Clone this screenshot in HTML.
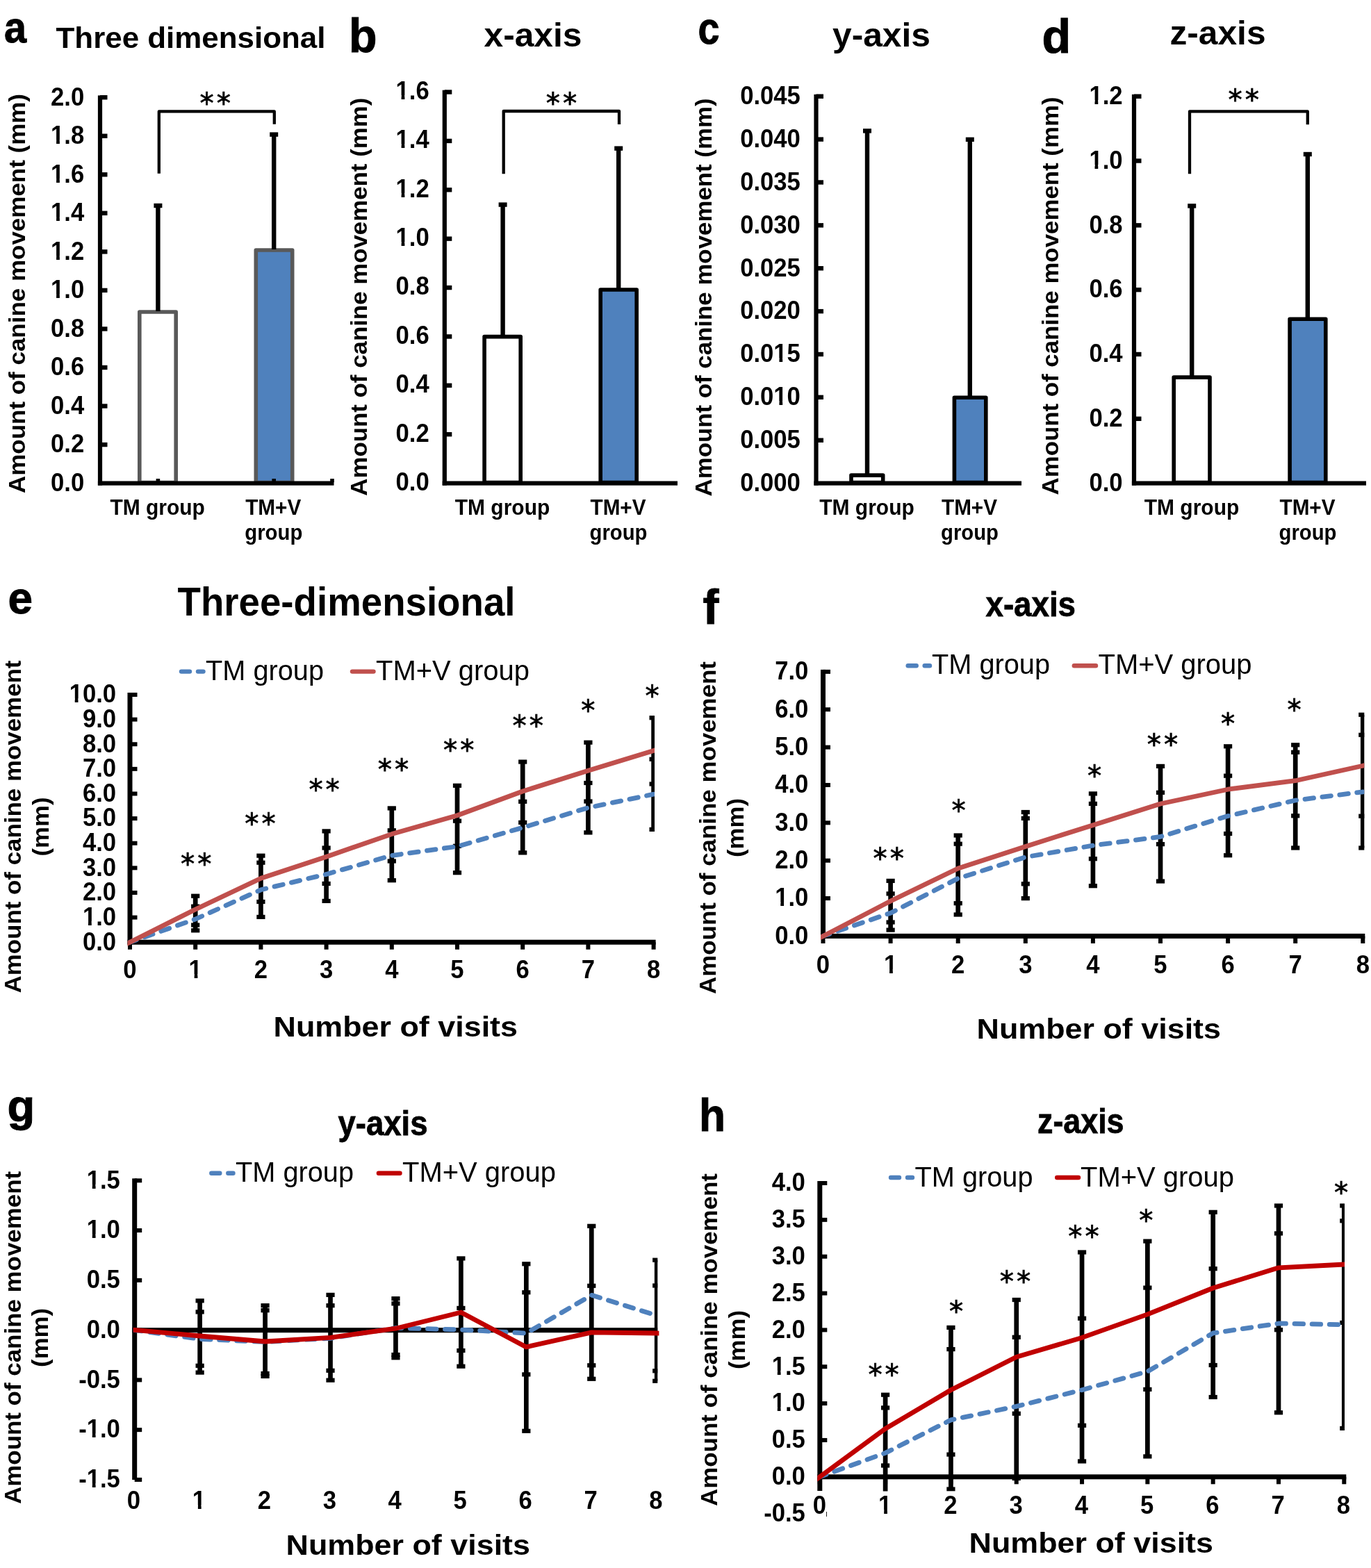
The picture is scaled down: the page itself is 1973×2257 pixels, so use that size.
<!DOCTYPE html>
<html lang="en">
<head>
<meta charset="utf-8">
<title>Canine movement figure</title>
<style>html,body{margin:0;padding:0;background:#fff}svg{display:block}text{white-space:pre}</style>
</head>
<body>
<svg width="1973" height="2257" viewBox="0 0 1973 2257" font-family='"Liberation Sans", sans-serif' font-weight="bold" fill="#000" stroke="none">
<defs>
<clipPath id="ec"><rect x="183.5" y="0" width="758.5" height="2257"/></clipPath>
<clipPath id="fc"><rect x="1181" y="0" width="782.3" height="2257"/></clipPath>
<clipPath id="gc"><rect x="190.2" y="0" width="756.1" height="2257"/></clipPath>
<clipPath id="hc"><rect x="1176.3" y="0" width="758.7" height="2146.6"/></clipPath>
<clipPath id="gl"><rect x="191.7" y="0" width="756.7" height="2257"/></clipPath>
<clipPath id="hz"><rect x="0" y="2100" width="1189.5" height="200"/></clipPath>
</defs>
<rect width="1973" height="2257" fill="#fff"/>
<g>
<rect x="200.8" y="449" width="52.4" height="245.6" fill="#fff" stroke="#595959" stroke-width="5.6" stroke-linejoin="round"/>
<rect x="368.3" y="360" width="52.4" height="334.6" fill="#4F81BD" stroke="#595959" stroke-width="5.6" stroke-linejoin="round"/>
<rect x="224.2" y="296" width="6.4" height="152" fill="#000"/>
<rect x="221.4" y="292.8" width="12" height="6.4" fill="#000"/>
<rect x="391" y="193.6" width="6.4" height="165.4" fill="#000"/>
<rect x="388.2" y="190.4" width="12" height="6.4" fill="#000"/>
<rect x="140.9" y="137.4" width="6.2" height="561.3" fill="#000"/>
<rect x="140.9" y="692.5" width="339.6" height="6.2" fill="#000"/>
<text x="121.2" y="706.9" font-size="36.3" text-anchor="end" textLength="48.19" lengthAdjust="spacingAndGlyphs">0.0</text>
<rect x="144" y="636.86" width="10.5" height="6.4" fill="#000"/>
<text x="121.2" y="651.36" font-size="36.3" text-anchor="end" textLength="48.19" lengthAdjust="spacingAndGlyphs">0.2</text>
<rect x="144" y="581.32" width="10.5" height="6.4" fill="#000"/>
<text x="121.2" y="595.82" font-size="36.3" text-anchor="end" textLength="48.19" lengthAdjust="spacingAndGlyphs">0.4</text>
<rect x="144" y="525.78" width="10.5" height="6.4" fill="#000"/>
<text x="121.2" y="540.28" font-size="36.3" text-anchor="end" textLength="48.19" lengthAdjust="spacingAndGlyphs">0.6</text>
<rect x="144" y="470.24" width="10.5" height="6.4" fill="#000"/>
<text x="121.2" y="484.74" font-size="36.3" text-anchor="end" textLength="48.19" lengthAdjust="spacingAndGlyphs">0.8</text>
<rect x="144" y="414.7" width="10.5" height="6.4" fill="#000"/>
<text x="121.2" y="429.2" font-size="36.3" text-anchor="end" textLength="48.19" lengthAdjust="spacingAndGlyphs">1.0</text>
<rect x="74.02" y="423.35" width="7.08" height="8.35" fill="#fff"/>
<rect x="85.86" y="423.35" width="6.62" height="8.35" fill="#fff"/>
<rect x="144" y="359.16" width="10.5" height="6.4" fill="#000"/>
<text x="121.2" y="373.66" font-size="36.3" text-anchor="end" textLength="48.19" lengthAdjust="spacingAndGlyphs">1.2</text>
<rect x="74.02" y="367.81" width="7.08" height="8.35" fill="#fff"/>
<rect x="85.86" y="367.81" width="6.62" height="8.35" fill="#fff"/>
<rect x="144" y="303.62" width="10.5" height="6.4" fill="#000"/>
<text x="121.2" y="318.12" font-size="36.3" text-anchor="end" textLength="48.19" lengthAdjust="spacingAndGlyphs">1.4</text>
<rect x="74.02" y="312.27" width="7.08" height="8.35" fill="#fff"/>
<rect x="85.86" y="312.27" width="6.62" height="8.35" fill="#fff"/>
<rect x="144" y="248.08" width="10.5" height="6.4" fill="#000"/>
<text x="121.2" y="262.58" font-size="36.3" text-anchor="end" textLength="48.19" lengthAdjust="spacingAndGlyphs">1.6</text>
<rect x="74.02" y="256.73" width="7.08" height="8.35" fill="#fff"/>
<rect x="85.86" y="256.73" width="6.62" height="8.35" fill="#fff"/>
<rect x="144" y="192.54" width="10.5" height="6.4" fill="#000"/>
<text x="121.2" y="207.04" font-size="36.3" text-anchor="end" textLength="48.19" lengthAdjust="spacingAndGlyphs">1.8</text>
<rect x="74.02" y="201.19" width="7.08" height="8.35" fill="#fff"/>
<rect x="85.86" y="201.19" width="6.62" height="8.35" fill="#fff"/>
<rect x="144" y="137" width="10.5" height="6.4" fill="#000"/>
<text x="121.2" y="151.5" font-size="36.3" text-anchor="end" textLength="48.19" lengthAdjust="spacingAndGlyphs">2.0</text>
<rect x="224.6" y="689.1" width="5.6" height="5" fill="#000"/>
<rect x="391.4" y="689.1" width="5.6" height="5" fill="#000"/>
<rect x="475.2" y="689.1" width="5.6" height="5" fill="#000"/>
<path d="M228.8 249.7V160.4H394.8V178.8" fill="none" stroke="#000" stroke-width="4.3" stroke-linejoin="round"/>
<text x="309.8" y="162.5" font-size="40.2" text-anchor="middle" font-weight="normal" font-family='"DejaVu Sans Mono", "Liberation Mono", monospace' stroke="#000" stroke-width="0.8">**</text>
<text x="35.5" y="710" font-size="33.5" textLength="575" lengthAdjust="spacingAndGlyphs" transform="rotate(-90 35.5 710)">Amount of canine movement (mm)</text>
<text x="226.7" y="741" font-size="31" text-anchor="middle" textLength="136.5" lengthAdjust="spacingAndGlyphs">TM group</text>
<text x="393.2" y="741" font-size="31" text-anchor="middle" textLength="80" lengthAdjust="spacingAndGlyphs">TM+V</text>
<text x="393.8" y="776.8" font-size="31" text-anchor="middle" textLength="83" lengthAdjust="spacingAndGlyphs">group</text>
<text x="80.5" y="69.3" font-size="42.5" textLength="388" lengthAdjust="spacingAndGlyphs">Three dimensional</text>
<text x="6" y="61.3" font-size="63.5" textLength="32" lengthAdjust="spacingAndGlyphs" stroke="#000" stroke-width="1">a</text>
</g>
<g>
<rect x="697.1" y="484.6" width="52.1" height="210" fill="#fff" stroke="#000" stroke-width="5.6" stroke-linejoin="round"/>
<rect x="864.2" y="417" width="52" height="277.6" fill="#4F81BD" stroke="#000" stroke-width="5.6" stroke-linejoin="round"/>
<rect x="720.4" y="294.6" width="6.4" height="189.4" fill="#000"/>
<rect x="717.6" y="291.4" width="12" height="6.4" fill="#000"/>
<rect x="887" y="213.6" width="6.4" height="203.4" fill="#000"/>
<rect x="884.2" y="210.4" width="12" height="6.4" fill="#000"/>
<rect x="636.7" y="129.7" width="6.2" height="569" fill="#000"/>
<rect x="636.7" y="692.5" width="338.3" height="6.2" fill="#000"/>
<text x="617.7" y="705.9" font-size="36.3" text-anchor="end" textLength="48.19" lengthAdjust="spacingAndGlyphs">0.0</text>
<rect x="639.8" y="622.01" width="10.5" height="6.4" fill="#000"/>
<text x="617.7" y="635.51" font-size="36.3" text-anchor="end" textLength="48.19" lengthAdjust="spacingAndGlyphs">0.2</text>
<rect x="639.8" y="551.62" width="10.5" height="6.4" fill="#000"/>
<text x="617.7" y="565.12" font-size="36.3" text-anchor="end" textLength="48.19" lengthAdjust="spacingAndGlyphs">0.4</text>
<rect x="639.8" y="481.24" width="10.5" height="6.4" fill="#000"/>
<text x="617.7" y="494.74" font-size="36.3" text-anchor="end" textLength="48.19" lengthAdjust="spacingAndGlyphs">0.6</text>
<rect x="639.8" y="410.85" width="10.5" height="6.4" fill="#000"/>
<text x="617.7" y="424.35" font-size="36.3" text-anchor="end" textLength="48.19" lengthAdjust="spacingAndGlyphs">0.8</text>
<rect x="639.8" y="340.46" width="10.5" height="6.4" fill="#000"/>
<text x="617.7" y="353.96" font-size="36.3" text-anchor="end" textLength="48.19" lengthAdjust="spacingAndGlyphs">1.0</text>
<rect x="570.52" y="348.11" width="7.08" height="8.35" fill="#fff"/>
<rect x="582.36" y="348.11" width="6.62" height="8.35" fill="#fff"/>
<rect x="639.8" y="270.07" width="10.5" height="6.4" fill="#000"/>
<text x="617.7" y="283.57" font-size="36.3" text-anchor="end" textLength="48.19" lengthAdjust="spacingAndGlyphs">1.2</text>
<rect x="570.52" y="277.73" width="7.08" height="8.35" fill="#fff"/>
<rect x="582.36" y="277.73" width="6.62" height="8.35" fill="#fff"/>
<rect x="639.8" y="199.69" width="10.5" height="6.4" fill="#000"/>
<text x="617.7" y="213.19" font-size="36.3" text-anchor="end" textLength="48.19" lengthAdjust="spacingAndGlyphs">1.4</text>
<rect x="570.52" y="207.34" width="7.08" height="8.35" fill="#fff"/>
<rect x="582.36" y="207.34" width="6.62" height="8.35" fill="#fff"/>
<rect x="639.8" y="129.3" width="10.5" height="6.4" fill="#000"/>
<text x="617.7" y="142.8" font-size="36.3" text-anchor="end" textLength="48.19" lengthAdjust="spacingAndGlyphs">1.6</text>
<rect x="570.52" y="136.95" width="7.08" height="8.35" fill="#fff"/>
<rect x="582.36" y="136.95" width="6.62" height="8.35" fill="#fff"/>
<path d="M724.7 250.3V160H891V179" fill="none" stroke="#000" stroke-width="4.3" stroke-linejoin="round"/>
<text x="808" y="162.5" font-size="40.2" text-anchor="middle" font-weight="normal" font-family='"DejaVu Sans Mono", "Liberation Mono", monospace' stroke="#000" stroke-width="0.8">**</text>
<text x="528.5" y="713.7" font-size="33.5" textLength="573" lengthAdjust="spacingAndGlyphs" transform="rotate(-90 528.5 713.7)">Amount of canine movement (mm)</text>
<text x="723" y="741" font-size="31" text-anchor="middle" textLength="136.5" lengthAdjust="spacingAndGlyphs">TM group</text>
<text x="889.5" y="741" font-size="31" text-anchor="middle" textLength="80" lengthAdjust="spacingAndGlyphs">TM+V</text>
<text x="890" y="776.8" font-size="31" text-anchor="middle" textLength="83" lengthAdjust="spacingAndGlyphs">group</text>
<text x="696.5" y="67" font-size="49" textLength="141" lengthAdjust="spacingAndGlyphs">x-axis</text>
<text x="502" y="75" font-size="69" textLength="40.5" lengthAdjust="spacingAndGlyphs" stroke="#000" stroke-width="1">b</text>
</g>
<g>
<rect x="1225" y="684.1" width="45.7" height="10.5" fill="#fff" stroke="#000" stroke-width="5.6" stroke-linejoin="round"/>
<rect x="1373.4" y="572.2" width="45.4" height="122.4" fill="#4F81BD" stroke="#000" stroke-width="5.6" stroke-linejoin="round"/>
<rect x="1244.8" y="188.4" width="6.4" height="495.6" fill="#000"/>
<rect x="1242" y="185.2" width="12" height="6.4" fill="#000"/>
<rect x="1392.6" y="200.8" width="6.4" height="371.2" fill="#000"/>
<rect x="1389.8" y="197.6" width="12" height="6.4" fill="#000"/>
<rect x="1171.4" y="135.9" width="6.2" height="562.8" fill="#000"/>
<rect x="1171.4" y="692.5" width="298.6" height="6.2" fill="#000"/>
<text x="1151.9" y="706.9" font-size="36.3" text-anchor="end" textLength="86.75" lengthAdjust="spacingAndGlyphs">0.000</text>
<rect x="1174.5" y="630.52" width="10.5" height="6.4" fill="#000"/>
<text x="1151.9" y="645.02" font-size="36.3" text-anchor="end" textLength="86.75" lengthAdjust="spacingAndGlyphs">0.005</text>
<rect x="1174.5" y="568.64" width="10.5" height="6.4" fill="#000"/>
<text x="1151.9" y="583.14" font-size="36.3" text-anchor="end" textLength="86.75" lengthAdjust="spacingAndGlyphs">0.010</text>
<rect x="1114.36" y="577.3" width="7.08" height="8.35" fill="#fff"/>
<rect x="1126.19" y="577.3" width="6.62" height="8.35" fill="#fff"/>
<rect x="1174.5" y="506.77" width="10.5" height="6.4" fill="#000"/>
<text x="1151.9" y="521.27" font-size="36.3" text-anchor="end" textLength="86.75" lengthAdjust="spacingAndGlyphs">0.015</text>
<rect x="1114.36" y="515.42" width="7.08" height="8.35" fill="#fff"/>
<rect x="1126.19" y="515.42" width="6.62" height="8.35" fill="#fff"/>
<rect x="1174.5" y="444.89" width="10.5" height="6.4" fill="#000"/>
<text x="1151.9" y="459.39" font-size="36.3" text-anchor="end" textLength="86.75" lengthAdjust="spacingAndGlyphs">0.020</text>
<rect x="1174.5" y="383.01" width="10.5" height="6.4" fill="#000"/>
<text x="1151.9" y="397.51" font-size="36.3" text-anchor="end" textLength="86.75" lengthAdjust="spacingAndGlyphs">0.025</text>
<rect x="1174.5" y="321.13" width="10.5" height="6.4" fill="#000"/>
<text x="1151.9" y="335.63" font-size="36.3" text-anchor="end" textLength="86.75" lengthAdjust="spacingAndGlyphs">0.030</text>
<rect x="1174.5" y="259.26" width="10.5" height="6.4" fill="#000"/>
<text x="1151.9" y="273.76" font-size="36.3" text-anchor="end" textLength="86.75" lengthAdjust="spacingAndGlyphs">0.035</text>
<rect x="1174.5" y="197.38" width="10.5" height="6.4" fill="#000"/>
<text x="1151.9" y="211.88" font-size="36.3" text-anchor="end" textLength="86.75" lengthAdjust="spacingAndGlyphs">0.040</text>
<rect x="1174.5" y="135.5" width="10.5" height="6.4" fill="#000"/>
<text x="1151.9" y="150" font-size="36.3" text-anchor="end" textLength="86.75" lengthAdjust="spacingAndGlyphs">0.045</text>
<text x="1023.5" y="714.5" font-size="33.5" textLength="573" lengthAdjust="spacingAndGlyphs" transform="rotate(-90 1023.5 714.5)">Amount of canine movement (mm)</text>
<text x="1247.5" y="741" font-size="31" text-anchor="middle" textLength="136.5" lengthAdjust="spacingAndGlyphs">TM group</text>
<text x="1395" y="741" font-size="31" text-anchor="middle" textLength="80" lengthAdjust="spacingAndGlyphs">TM+V</text>
<text x="1395.5" y="776.8" font-size="31" text-anchor="middle" textLength="83" lengthAdjust="spacingAndGlyphs">group</text>
<text x="1198" y="67" font-size="49" textLength="141" lengthAdjust="spacingAndGlyphs">y-axis</text>
<text x="1004.5" y="63.2" font-size="64" textLength="31" lengthAdjust="spacingAndGlyphs" stroke="#000" stroke-width="1">c</text>
</g>
<g>
<rect x="1689.2" y="543.1" width="51.8" height="151.5" fill="#fff" stroke="#000" stroke-width="5.6" stroke-linejoin="round"/>
<rect x="1856.1" y="459.2" width="51.7" height="235.4" fill="#4F81BD" stroke="#000" stroke-width="5.6" stroke-linejoin="round"/>
<rect x="1712" y="296.4" width="6.4" height="246.6" fill="#000"/>
<rect x="1709.2" y="293.2" width="12" height="6.4" fill="#000"/>
<rect x="1878.6" y="222" width="6.4" height="237" fill="#000"/>
<rect x="1875.8" y="218.8" width="12" height="6.4" fill="#000"/>
<rect x="1628.9" y="135.9" width="6.2" height="562.8" fill="#000"/>
<rect x="1628.9" y="692.5" width="337.1" height="6.2" fill="#000"/>
<text x="1615.6" y="706.9" font-size="36.3" text-anchor="end" textLength="48.19" lengthAdjust="spacingAndGlyphs">0.0</text>
<rect x="1632" y="599.58" width="10.5" height="6.4" fill="#000"/>
<text x="1615.6" y="614.08" font-size="36.3" text-anchor="end" textLength="48.19" lengthAdjust="spacingAndGlyphs">0.2</text>
<rect x="1632" y="506.77" width="10.5" height="6.4" fill="#000"/>
<text x="1615.6" y="521.27" font-size="36.3" text-anchor="end" textLength="48.19" lengthAdjust="spacingAndGlyphs">0.4</text>
<rect x="1632" y="413.95" width="10.5" height="6.4" fill="#000"/>
<text x="1615.6" y="428.45" font-size="36.3" text-anchor="end" textLength="48.19" lengthAdjust="spacingAndGlyphs">0.6</text>
<rect x="1632" y="321.13" width="10.5" height="6.4" fill="#000"/>
<text x="1615.6" y="335.63" font-size="36.3" text-anchor="end" textLength="48.19" lengthAdjust="spacingAndGlyphs">0.8</text>
<rect x="1632" y="228.32" width="10.5" height="6.4" fill="#000"/>
<text x="1615.6" y="242.82" font-size="36.3" text-anchor="end" textLength="48.19" lengthAdjust="spacingAndGlyphs">1.0</text>
<rect x="1568.42" y="236.97" width="7.08" height="8.35" fill="#fff"/>
<rect x="1580.26" y="236.97" width="6.62" height="8.35" fill="#fff"/>
<rect x="1632" y="135.5" width="10.5" height="6.4" fill="#000"/>
<text x="1615.6" y="150" font-size="36.3" text-anchor="end" textLength="48.19" lengthAdjust="spacingAndGlyphs">1.2</text>
<rect x="1568.42" y="144.15" width="7.08" height="8.35" fill="#fff"/>
<rect x="1580.26" y="144.15" width="6.62" height="8.35" fill="#fff"/>
<path d="M1712 250.3V160.4H1881.8V179.2" fill="none" stroke="#000" stroke-width="4.3" stroke-linejoin="round"/>
<text x="1789.7" y="157.7" font-size="40.2" text-anchor="middle" font-weight="normal" font-family='"DejaVu Sans Mono", "Liberation Mono", monospace' stroke="#000" stroke-width="0.8">**</text>
<text x="1522.5" y="712.5" font-size="33.5" textLength="573" lengthAdjust="spacingAndGlyphs" transform="rotate(-90 1522.5 712.5)">Amount of canine movement (mm)</text>
<text x="1715" y="741" font-size="31" text-anchor="middle" textLength="136.5" lengthAdjust="spacingAndGlyphs">TM group</text>
<text x="1881.5" y="741" font-size="31" text-anchor="middle" textLength="80" lengthAdjust="spacingAndGlyphs">TM+V</text>
<text x="1882" y="776.8" font-size="31" text-anchor="middle" textLength="83" lengthAdjust="spacingAndGlyphs">group</text>
<text x="1683.5" y="63.6" font-size="49" textLength="138" lengthAdjust="spacingAndGlyphs">z-axis</text>
<text x="1499.5" y="75.5" font-size="68" stroke="#000" stroke-width="1">d</text>
</g>
<g>
<g clip-path="url(#ec)">
<rect x="277.85" y="1289.7" width="6.7" height="49.6" fill="#000"/>
<rect x="275.1" y="1286.6" width="12.2" height="6.2" fill="#000"/>
<rect x="275.1" y="1301.6" width="12.2" height="6.2" fill="#000"/>
<rect x="275.1" y="1328.4" width="12.2" height="6.2" fill="#000"/>
<rect x="275.1" y="1336.2" width="12.2" height="6.2" fill="#000"/>
<rect x="372.05" y="1231.7" width="6.7" height="88.2" fill="#000"/>
<rect x="369.3" y="1228.6" width="12.2" height="6.2" fill="#000"/>
<rect x="369.3" y="1238.6" width="12.2" height="6.2" fill="#000"/>
<rect x="369.3" y="1294.9" width="12.2" height="6.2" fill="#000"/>
<rect x="369.3" y="1316.8" width="12.2" height="6.2" fill="#000"/>
<rect x="466.25" y="1196.4" width="6.7" height="100.5" fill="#000"/>
<rect x="463.5" y="1193.3" width="12.2" height="6.2" fill="#000"/>
<rect x="463.5" y="1217.4" width="12.2" height="6.2" fill="#000"/>
<rect x="463.5" y="1268.8" width="12.2" height="6.2" fill="#000"/>
<rect x="463.5" y="1293.8" width="12.2" height="6.2" fill="#000"/>
<rect x="560.45" y="1163.4" width="6.7" height="103.8" fill="#000"/>
<rect x="557.7" y="1160.3" width="12.2" height="6.2" fill="#000"/>
<rect x="557.7" y="1192.2" width="12.2" height="6.2" fill="#000"/>
<rect x="557.7" y="1236.4" width="12.2" height="6.2" fill="#000"/>
<rect x="557.7" y="1264.1" width="12.2" height="6.2" fill="#000"/>
<rect x="654.65" y="1130.8" width="6.7" height="125.4" fill="#000"/>
<rect x="651.9" y="1127.7" width="12.2" height="6.2" fill="#000"/>
<rect x="651.9" y="1178.6" width="12.2" height="6.2" fill="#000"/>
<rect x="651.9" y="1214.7" width="12.2" height="6.2" fill="#000"/>
<rect x="651.9" y="1253.1" width="12.2" height="6.2" fill="#000"/>
<rect x="748.85" y="1096.6" width="6.7" height="130.8" fill="#000"/>
<rect x="746.1" y="1093.5" width="12.2" height="6.2" fill="#000"/>
<rect x="746.1" y="1150.7" width="12.2" height="6.2" fill="#000"/>
<rect x="746.1" y="1180.8" width="12.2" height="6.2" fill="#000"/>
<rect x="746.1" y="1224.3" width="12.2" height="6.2" fill="#000"/>
<rect x="843.05" y="1068.7" width="6.7" height="129.7" fill="#000"/>
<rect x="840.3" y="1065.6" width="12.2" height="6.2" fill="#000"/>
<rect x="840.3" y="1123.9" width="12.2" height="6.2" fill="#000"/>
<rect x="840.3" y="1150.4" width="12.2" height="6.2" fill="#000"/>
<rect x="840.3" y="1195.3" width="12.2" height="6.2" fill="#000"/>
<rect x="937.25" y="1033.2" width="6.7" height="160.7" fill="#000"/>
<rect x="934.5" y="1030.1" width="12.2" height="6.2" fill="#000"/>
<rect x="934.5" y="1089.7" width="12.2" height="6.2" fill="#000"/>
<rect x="934.5" y="1125.4" width="12.2" height="6.2" fill="#000"/>
<rect x="934.5" y="1190.8" width="12.2" height="6.2" fill="#000"/>
</g>
<rect x="183.5" y="997" width="7" height="362.7" fill="#000"/>
<rect x="183.5" y="1352.7" width="760.1" height="7" fill="#000"/>
<rect x="187" y="997" width="10.5" height="6" fill="#000"/>
<rect x="187" y="1032.62" width="10.5" height="6" fill="#000"/>
<rect x="187" y="1068.24" width="10.5" height="6" fill="#000"/>
<rect x="187" y="1103.86" width="10.5" height="6" fill="#000"/>
<rect x="187" y="1139.48" width="10.5" height="6" fill="#000"/>
<rect x="187" y="1175.1" width="10.5" height="6" fill="#000"/>
<rect x="187" y="1210.72" width="10.5" height="6" fill="#000"/>
<rect x="187" y="1246.34" width="10.5" height="6" fill="#000"/>
<rect x="187" y="1281.96" width="10.5" height="6" fill="#000"/>
<rect x="187" y="1317.58" width="10.5" height="6" fill="#000"/>
<rect x="184" y="1356.2" width="6" height="10.5" fill="#000"/>
<rect x="278.2" y="1356.2" width="6" height="10.5" fill="#000"/>
<rect x="372.4" y="1356.2" width="6" height="10.5" fill="#000"/>
<rect x="466.6" y="1356.2" width="6" height="10.5" fill="#000"/>
<rect x="560.8" y="1356.2" width="6" height="10.5" fill="#000"/>
<rect x="655" y="1356.2" width="6" height="10.5" fill="#000"/>
<rect x="749.2" y="1356.2" width="6" height="10.5" fill="#000"/>
<rect x="843.4" y="1356.2" width="6" height="10.5" fill="#000"/>
<rect x="937.6" y="1356.2" width="6" height="10.5" fill="#000"/>
<text x="167.1" y="1011.3" font-size="36.3" text-anchor="end" textLength="67.47" lengthAdjust="spacingAndGlyphs">10.0</text>
<rect x="100.64" y="1005.45" width="7.08" height="8.35" fill="#fff"/>
<rect x="112.48" y="1005.45" width="6.62" height="8.35" fill="#fff"/>
<text x="167.1" y="1046.92" font-size="36.3" text-anchor="end" textLength="48.19" lengthAdjust="spacingAndGlyphs">9.0</text>
<text x="167.1" y="1082.54" font-size="36.3" text-anchor="end" textLength="48.19" lengthAdjust="spacingAndGlyphs">8.0</text>
<text x="167.1" y="1118.16" font-size="36.3" text-anchor="end" textLength="48.19" lengthAdjust="spacingAndGlyphs">7.0</text>
<text x="167.1" y="1153.78" font-size="36.3" text-anchor="end" textLength="48.19" lengthAdjust="spacingAndGlyphs">6.0</text>
<text x="167.1" y="1189.4" font-size="36.3" text-anchor="end" textLength="48.19" lengthAdjust="spacingAndGlyphs">5.0</text>
<text x="167.1" y="1225.02" font-size="36.3" text-anchor="end" textLength="48.19" lengthAdjust="spacingAndGlyphs">4.0</text>
<text x="167.1" y="1260.64" font-size="36.3" text-anchor="end" textLength="48.19" lengthAdjust="spacingAndGlyphs">3.0</text>
<text x="167.1" y="1296.26" font-size="36.3" text-anchor="end" textLength="48.19" lengthAdjust="spacingAndGlyphs">2.0</text>
<text x="167.1" y="1331.88" font-size="36.3" text-anchor="end" textLength="48.19" lengthAdjust="spacingAndGlyphs">1.0</text>
<rect x="119.92" y="1326.03" width="7.08" height="8.35" fill="#fff"/>
<rect x="131.76" y="1326.03" width="6.62" height="8.35" fill="#fff"/>
<text x="167.1" y="1367.5" font-size="36.3" text-anchor="end" textLength="48.19" lengthAdjust="spacingAndGlyphs">0.0</text>
<text x="187" y="1408" font-size="36.3" text-anchor="middle" textLength="19.28" lengthAdjust="spacingAndGlyphs">0</text>
<text x="281.2" y="1408" font-size="36.3" text-anchor="middle" textLength="19.28" lengthAdjust="spacingAndGlyphs">1</text>
<rect x="272.58" y="1402.15" width="7.08" height="8.35" fill="#fff"/>
<rect x="284.41" y="1402.15" width="6.62" height="8.35" fill="#fff"/>
<text x="375.4" y="1408" font-size="36.3" text-anchor="middle" textLength="19.28" lengthAdjust="spacingAndGlyphs">2</text>
<text x="469.6" y="1408" font-size="36.3" text-anchor="middle" textLength="19.28" lengthAdjust="spacingAndGlyphs">3</text>
<text x="563.8" y="1408" font-size="36.3" text-anchor="middle" textLength="19.28" lengthAdjust="spacingAndGlyphs">4</text>
<text x="658" y="1408" font-size="36.3" text-anchor="middle" textLength="19.28" lengthAdjust="spacingAndGlyphs">5</text>
<text x="752.2" y="1408" font-size="36.3" text-anchor="middle" textLength="19.28" lengthAdjust="spacingAndGlyphs">6</text>
<text x="846.4" y="1408" font-size="36.3" text-anchor="middle" textLength="19.28" lengthAdjust="spacingAndGlyphs">7</text>
<text x="940.6" y="1408" font-size="36.3" text-anchor="middle" textLength="19.28" lengthAdjust="spacingAndGlyphs">8</text>
<g clip-path="url(#ec)">
<polyline points="187,1356.2 281.2,1323 375.4,1280.8 469.6,1258.4 563.8,1231.4 658,1218.4 752.2,1191.3 846.4,1162.6 940.6,1143.2" fill="none" stroke="#4F81BD" stroke-width="6.8" stroke-dasharray="12.6 12.5" stroke-dashoffset="2.7" stroke-linecap="round" stroke-linejoin="round"/>
<polyline points="177.58,1360.92 187,1356.2 281.2,1309 375.4,1264.3 469.6,1233.2 563.8,1200.6 658,1173.7 752.2,1139 846.4,1109.2 940.6,1080.4 950.02,1077.52" fill="none" stroke="#C0504D" stroke-width="6.8" stroke-linejoin="round"/>
</g>
<text x="282.2" y="1257.5" font-size="40.2" text-anchor="middle" font-weight="normal" font-family='"DejaVu Sans Mono", "Liberation Mono", monospace' stroke="#000" stroke-width="0.8">**</text>
<text x="374.5" y="1199.9" font-size="40.2" text-anchor="middle" font-weight="normal" font-family='"DejaVu Sans Mono", "Liberation Mono", monospace' stroke="#000" stroke-width="0.8">**</text>
<text x="466.6" y="1150.9" font-size="40.2" text-anchor="middle" font-weight="normal" font-family='"DejaVu Sans Mono", "Liberation Mono", monospace' stroke="#000" stroke-width="0.8">**</text>
<text x="566" y="1121.7" font-size="40.2" text-anchor="middle" font-weight="normal" font-family='"DejaVu Sans Mono", "Liberation Mono", monospace' stroke="#000" stroke-width="0.8">**</text>
<text x="660.3" y="1093.9" font-size="40.2" text-anchor="middle" font-weight="normal" font-family='"DejaVu Sans Mono", "Liberation Mono", monospace' stroke="#000" stroke-width="0.8">**</text>
<text x="759.8" y="1058.9" font-size="40.2" text-anchor="middle" font-weight="normal" font-family='"DejaVu Sans Mono", "Liberation Mono", monospace' stroke="#000" stroke-width="0.8">**</text>
<text x="846.4" y="1036.9" font-size="40.2" text-anchor="middle" font-weight="normal" font-family='"DejaVu Sans Mono", "Liberation Mono", monospace' stroke="#000" stroke-width="0.8">*</text>
<text x="938.6" y="1015.7" font-size="40.2" text-anchor="middle" font-weight="normal" font-family='"DejaVu Sans Mono", "Liberation Mono", monospace' stroke="#000" stroke-width="0.8">*</text>
<line x1="261" y1="966.6" x2="273" y2="966.6" stroke-width="6.4" stroke="#4F81BD" stroke-linecap="round"/>
<line x1="285" y1="966.6" x2="292.5" y2="966.6" stroke-width="6.4" stroke="#4F81BD" stroke-linecap="round"/>
<text x="296" y="978.6" font-size="41.5" font-weight="normal" textLength="170" lengthAdjust="spacingAndGlyphs">TM group</text>
<line x1="507" y1="966.6" x2="537.5" y2="966.6" stroke-width="6.4" stroke="#C0504D" stroke-linecap="round"/>
<text x="541" y="978.6" font-size="41.5" font-weight="normal" textLength="221" lengthAdjust="spacingAndGlyphs">TM+V group</text>
<text x="30" y="1190" font-size="33" text-anchor="middle" textLength="479" lengthAdjust="spacingAndGlyphs" transform="rotate(-90 30 1190)">Amount of canine movement</text>
<text x="69.5" y="1190" font-size="33" text-anchor="middle" textLength="85" lengthAdjust="spacingAndGlyphs" transform="rotate(-90 69.5 1190)">(mm)</text>
<text x="393.5" y="1492.1" font-size="41" textLength="351.5" lengthAdjust="spacingAndGlyphs">Number of visits</text>
<text x="255.5" y="886" font-size="57.5" textLength="486" lengthAdjust="spacingAndGlyphs">Three-dimensional</text>
<text x="11.5" y="883.3" font-size="64" textLength="35.5" lengthAdjust="spacingAndGlyphs" stroke="#000" stroke-width="1">e</text>
</g>
<g>
<g clip-path="url(#fc)">
<rect x="1278.25" y="1267.9" width="6.7" height="70.7" fill="#000"/>
<rect x="1275.5" y="1264.8" width="12.2" height="6.2" fill="#000"/>
<rect x="1275.5" y="1283.3" width="12.2" height="6.2" fill="#000"/>
<rect x="1275.5" y="1324.4" width="12.2" height="6.2" fill="#000"/>
<rect x="1275.5" y="1335.5" width="12.2" height="6.2" fill="#000"/>
<rect x="1375.35" y="1202.5" width="6.7" height="114" fill="#000"/>
<rect x="1372.6" y="1199.4" width="12.2" height="6.2" fill="#000"/>
<rect x="1372.6" y="1211.6" width="12.2" height="6.2" fill="#000"/>
<rect x="1372.6" y="1297.1" width="12.2" height="6.2" fill="#000"/>
<rect x="1372.6" y="1313.4" width="12.2" height="6.2" fill="#000"/>
<rect x="1472.45" y="1169" width="6.7" height="124.1" fill="#000"/>
<rect x="1469.7" y="1165.9" width="12.2" height="6.2" fill="#000"/>
<rect x="1469.7" y="1174.8" width="12.2" height="6.2" fill="#000"/>
<rect x="1469.7" y="1269.2" width="12.2" height="6.2" fill="#000"/>
<rect x="1469.7" y="1290" width="12.2" height="6.2" fill="#000"/>
<rect x="1569.55" y="1142.4" width="6.7" height="132.8" fill="#000"/>
<rect x="1566.8" y="1139.3" width="12.2" height="6.2" fill="#000"/>
<rect x="1566.8" y="1153.8" width="12.2" height="6.2" fill="#000"/>
<rect x="1566.8" y="1233.1" width="12.2" height="6.2" fill="#000"/>
<rect x="1566.8" y="1272.1" width="12.2" height="6.2" fill="#000"/>
<rect x="1666.65" y="1102.9" width="6.7" height="165.6" fill="#000"/>
<rect x="1663.9" y="1099.8" width="12.2" height="6.2" fill="#000"/>
<rect x="1663.9" y="1137.7" width="12.2" height="6.2" fill="#000"/>
<rect x="1663.9" y="1212" width="12.2" height="6.2" fill="#000"/>
<rect x="1663.9" y="1265.4" width="12.2" height="6.2" fill="#000"/>
<rect x="1763.75" y="1074.3" width="6.7" height="156.9" fill="#000"/>
<rect x="1761" y="1071.2" width="12.2" height="6.2" fill="#000"/>
<rect x="1761" y="1113.6" width="12.2" height="6.2" fill="#000"/>
<rect x="1761" y="1196.9" width="12.2" height="6.2" fill="#000"/>
<rect x="1761" y="1228.1" width="12.2" height="6.2" fill="#000"/>
<rect x="1860.85" y="1072.3" width="6.7" height="148.2" fill="#000"/>
<rect x="1858.1" y="1069.2" width="12.2" height="6.2" fill="#000"/>
<rect x="1858.1" y="1079.7" width="12.2" height="6.2" fill="#000"/>
<rect x="1858.1" y="1171.2" width="12.2" height="6.2" fill="#000"/>
<rect x="1858.1" y="1217.4" width="12.2" height="6.2" fill="#000"/>
<rect x="1957.95" y="1028.8" width="6.7" height="191.7" fill="#000"/>
<rect x="1955.2" y="1025.7" width="12.2" height="6.2" fill="#000"/>
<rect x="1955.2" y="1054.7" width="12.2" height="6.2" fill="#000"/>
<rect x="1955.2" y="1171.6" width="12.2" height="6.2" fill="#000"/>
<rect x="1955.2" y="1217.4" width="12.2" height="6.2" fill="#000"/>
</g>
<rect x="1181" y="963.9" width="7" height="387" fill="#000"/>
<rect x="1181" y="1343.9" width="783.3" height="7" fill="#000"/>
<rect x="1184.5" y="963.9" width="10.5" height="6" fill="#000"/>
<rect x="1184.5" y="1018.26" width="10.5" height="6" fill="#000"/>
<rect x="1184.5" y="1072.62" width="10.5" height="6" fill="#000"/>
<rect x="1184.5" y="1126.98" width="10.5" height="6" fill="#000"/>
<rect x="1184.5" y="1181.34" width="10.5" height="6" fill="#000"/>
<rect x="1184.5" y="1235.7" width="10.5" height="6" fill="#000"/>
<rect x="1184.5" y="1290.06" width="10.5" height="6" fill="#000"/>
<rect x="1181.5" y="1347.4" width="6" height="10.5" fill="#000"/>
<rect x="1278.6" y="1347.4" width="6" height="10.5" fill="#000"/>
<rect x="1375.7" y="1347.4" width="6" height="10.5" fill="#000"/>
<rect x="1472.8" y="1347.4" width="6" height="10.5" fill="#000"/>
<rect x="1569.9" y="1347.4" width="6" height="10.5" fill="#000"/>
<rect x="1667" y="1347.4" width="6" height="10.5" fill="#000"/>
<rect x="1764.1" y="1347.4" width="6" height="10.5" fill="#000"/>
<rect x="1861.2" y="1347.4" width="6" height="10.5" fill="#000"/>
<rect x="1958.3" y="1347.4" width="6" height="10.5" fill="#000"/>
<text x="1163.4" y="978.2" font-size="36.3" text-anchor="end" textLength="48.19" lengthAdjust="spacingAndGlyphs">7.0</text>
<text x="1163.4" y="1032.56" font-size="36.3" text-anchor="end" textLength="48.19" lengthAdjust="spacingAndGlyphs">6.0</text>
<text x="1163.4" y="1086.92" font-size="36.3" text-anchor="end" textLength="48.19" lengthAdjust="spacingAndGlyphs">5.0</text>
<text x="1163.4" y="1141.28" font-size="36.3" text-anchor="end" textLength="48.19" lengthAdjust="spacingAndGlyphs">4.0</text>
<text x="1163.4" y="1195.64" font-size="36.3" text-anchor="end" textLength="48.19" lengthAdjust="spacingAndGlyphs">3.0</text>
<text x="1163.4" y="1250" font-size="36.3" text-anchor="end" textLength="48.19" lengthAdjust="spacingAndGlyphs">2.0</text>
<text x="1163.4" y="1304.36" font-size="36.3" text-anchor="end" textLength="48.19" lengthAdjust="spacingAndGlyphs">1.0</text>
<rect x="1116.22" y="1298.51" width="7.08" height="8.35" fill="#fff"/>
<rect x="1128.06" y="1298.51" width="6.62" height="8.35" fill="#fff"/>
<text x="1163.4" y="1358.72" font-size="36.3" text-anchor="end" textLength="48.19" lengthAdjust="spacingAndGlyphs">0.0</text>
<text x="1184.5" y="1401" font-size="36.3" text-anchor="middle" textLength="19.28" lengthAdjust="spacingAndGlyphs">0</text>
<text x="1281.6" y="1401" font-size="36.3" text-anchor="middle" textLength="19.28" lengthAdjust="spacingAndGlyphs">1</text>
<rect x="1272.98" y="1395.15" width="7.08" height="8.35" fill="#fff"/>
<rect x="1284.81" y="1395.15" width="6.62" height="8.35" fill="#fff"/>
<text x="1378.7" y="1401" font-size="36.3" text-anchor="middle" textLength="19.28" lengthAdjust="spacingAndGlyphs">2</text>
<text x="1475.8" y="1401" font-size="36.3" text-anchor="middle" textLength="19.28" lengthAdjust="spacingAndGlyphs">3</text>
<text x="1572.9" y="1401" font-size="36.3" text-anchor="middle" textLength="19.28" lengthAdjust="spacingAndGlyphs">4</text>
<text x="1670" y="1401" font-size="36.3" text-anchor="middle" textLength="19.28" lengthAdjust="spacingAndGlyphs">5</text>
<text x="1767.1" y="1401" font-size="36.3" text-anchor="middle" textLength="19.28" lengthAdjust="spacingAndGlyphs">6</text>
<text x="1864.2" y="1401" font-size="36.3" text-anchor="middle" textLength="19.28" lengthAdjust="spacingAndGlyphs">7</text>
<text x="1961.3" y="1401" font-size="36.3" text-anchor="middle" textLength="19.28" lengthAdjust="spacingAndGlyphs">8</text>
<g clip-path="url(#fc)">
<polyline points="1184.5,1347.4 1281.6,1314.2 1378.7,1264.4 1475.8,1233.7 1572.9,1217 1670,1204.4 1767.1,1174.6 1864.2,1152 1961.3,1139.8" fill="none" stroke="#4F81BD" stroke-width="6.8" stroke-dasharray="12.6 12.5" stroke-dashoffset="2.7" stroke-linecap="round" stroke-linejoin="round"/>
<polyline points="1174.79,1352.44 1184.5,1347.4 1281.6,1297 1378.7,1250 1475.8,1218.4 1572.9,1187.7 1670,1157 1767.1,1136.2 1864.2,1123.7 1961.3,1102.2 1971.01,1100.05" fill="none" stroke="#C0504D" stroke-width="6.8" stroke-linejoin="round"/>
</g>
<text x="1278.7" y="1249.7" font-size="40.2" text-anchor="middle" font-weight="normal" font-family='"DejaVu Sans Mono", "Liberation Mono", monospace' stroke="#000" stroke-width="0.8">**</text>
<text x="1379.7" y="1180.9" font-size="40.2" text-anchor="middle" font-weight="normal" font-family='"DejaVu Sans Mono", "Liberation Mono", monospace' stroke="#000" stroke-width="0.8">*</text>
<text x="1575" y="1130.9" font-size="40.2" text-anchor="middle" font-weight="normal" font-family='"DejaVu Sans Mono", "Liberation Mono", monospace' stroke="#000" stroke-width="0.8">*</text>
<text x="1672.9" y="1085.9" font-size="40.2" text-anchor="middle" font-weight="normal" font-family='"DejaVu Sans Mono", "Liberation Mono", monospace' stroke="#000" stroke-width="0.8">**</text>
<text x="1767.2" y="1055.9" font-size="40.2" text-anchor="middle" font-weight="normal" font-family='"DejaVu Sans Mono", "Liberation Mono", monospace' stroke="#000" stroke-width="0.8">*</text>
<text x="1862.5" y="1035.9" font-size="40.2" text-anchor="middle" font-weight="normal" font-family='"DejaVu Sans Mono", "Liberation Mono", monospace' stroke="#000" stroke-width="0.8">*</text>
<line x1="1306.7" y1="958.2" x2="1318.7" y2="958.2" stroke-width="6.4" stroke="#4F81BD" stroke-linecap="round"/>
<line x1="1330.7" y1="958.2" x2="1338" y2="958.2" stroke-width="6.4" stroke="#4F81BD" stroke-linecap="round"/>
<text x="1341" y="970.2" font-size="41.5" font-weight="normal" textLength="170" lengthAdjust="spacingAndGlyphs">TM group</text>
<line x1="1545.8" y1="958.2" x2="1577" y2="958.2" stroke-width="6.4" stroke="#C0504D" stroke-linecap="round"/>
<text x="1580.5" y="970.2" font-size="41.5" font-weight="normal" textLength="221" lengthAdjust="spacingAndGlyphs">TM+V group</text>
<text x="1030" y="1191.5" font-size="33" text-anchor="middle" textLength="479" lengthAdjust="spacingAndGlyphs" transform="rotate(-90 1030 1191.5)">Amount of canine movement</text>
<text x="1069.5" y="1191.5" font-size="33" text-anchor="middle" textLength="85" lengthAdjust="spacingAndGlyphs" transform="rotate(-90 1069.5 1191.5)">(mm)</text>
<text x="1405.5" y="1494.9" font-size="41" textLength="351.5" lengthAdjust="spacingAndGlyphs">Number of visits</text>
<text x="1418.5" y="886.5" font-size="49.5" textLength="129.5" lengthAdjust="spacingAndGlyphs" stroke="#000" stroke-width="0.8">x-axis</text>
<text x="1011.5" y="897.5" font-size="70" textLength="23" lengthAdjust="spacingAndGlyphs" stroke="#000" stroke-width="1">f</text>
</g>
<g>
<g clip-path="url(#gc)">
<rect x="284.29" y="1872.3" width="6.7" height="103.3" fill="#000"/>
<rect x="281.54" y="1869.2" width="12.2" height="6.2" fill="#000"/>
<rect x="281.54" y="1885.3" width="12.2" height="6.2" fill="#000"/>
<rect x="281.54" y="1962.7" width="12.2" height="6.2" fill="#000"/>
<rect x="281.54" y="1972.5" width="12.2" height="6.2" fill="#000"/>
<rect x="378.22" y="1879.2" width="6.7" height="101.8" fill="#000"/>
<rect x="375.47" y="1876.1" width="12.2" height="6.2" fill="#000"/>
<rect x="375.47" y="1883.1" width="12.2" height="6.2" fill="#000"/>
<rect x="375.47" y="1973.9" width="12.2" height="6.2" fill="#000"/>
<rect x="375.47" y="1977.9" width="12.2" height="6.2" fill="#000"/>
<rect x="472.16" y="1863.9" width="6.7" height="122.8" fill="#000"/>
<rect x="469.41" y="1860.8" width="12.2" height="6.2" fill="#000"/>
<rect x="469.41" y="1876.1" width="12.2" height="6.2" fill="#000"/>
<rect x="469.41" y="1969.7" width="12.2" height="6.2" fill="#000"/>
<rect x="469.41" y="1983.6" width="12.2" height="6.2" fill="#000"/>
<rect x="566.1" y="1869.2" width="6.7" height="85.1" fill="#000"/>
<rect x="563.35" y="1866.1" width="12.2" height="6.2" fill="#000"/>
<rect x="563.35" y="1873.3" width="12.2" height="6.2" fill="#000"/>
<rect x="563.35" y="1946.9" width="12.2" height="6.2" fill="#000"/>
<rect x="563.35" y="1951.2" width="12.2" height="6.2" fill="#000"/>
<rect x="660.04" y="1811.4" width="6.7" height="155.3" fill="#000"/>
<rect x="657.29" y="1808.3" width="12.2" height="6.2" fill="#000"/>
<rect x="657.29" y="1879.8" width="12.2" height="6.2" fill="#000"/>
<rect x="657.29" y="1940.9" width="12.2" height="6.2" fill="#000"/>
<rect x="657.29" y="1963.6" width="12.2" height="6.2" fill="#000"/>
<rect x="753.98" y="1819.3" width="6.7" height="240.5" fill="#000"/>
<rect x="751.23" y="1816.2" width="12.2" height="6.2" fill="#000"/>
<rect x="751.23" y="1857.2" width="12.2" height="6.2" fill="#000"/>
<rect x="751.23" y="1975.3" width="12.2" height="6.2" fill="#000"/>
<rect x="751.23" y="2056.7" width="12.2" height="6.2" fill="#000"/>
<rect x="847.91" y="1764.8" width="6.7" height="220" fill="#000"/>
<rect x="845.16" y="1761.7" width="12.2" height="6.2" fill="#000"/>
<rect x="845.16" y="1847.7" width="12.2" height="6.2" fill="#000"/>
<rect x="845.16" y="1962.2" width="12.2" height="6.2" fill="#000"/>
<rect x="845.16" y="1981.7" width="12.2" height="6.2" fill="#000"/>
<rect x="941.85" y="1813.7" width="6.7" height="174.1" fill="#000"/>
<rect x="939.1" y="1810.6" width="12.2" height="6.2" fill="#000"/>
<rect x="939.1" y="1847.4" width="12.2" height="6.2" fill="#000"/>
<rect x="939.1" y="1970.2" width="12.2" height="6.2" fill="#000"/>
<rect x="939.1" y="1984.7" width="12.2" height="6.2" fill="#000"/>
</g>
<rect x="190.2" y="1696.3" width="7" height="433.7" fill="#000"/>
<rect x="190.2" y="1911.2" width="756" height="7" fill="#000"/>
<rect x="193.7" y="1696.3" width="10.5" height="6" fill="#000"/>
<rect x="193.7" y="1768.07" width="10.5" height="6" fill="#000"/>
<rect x="193.7" y="1839.84" width="10.5" height="6" fill="#000"/>
<rect x="193.7" y="1911.61" width="10.5" height="6" fill="#000"/>
<rect x="193.7" y="1983.38" width="10.5" height="6" fill="#000"/>
<rect x="193.7" y="2055.15" width="10.5" height="6" fill="#000"/>
<rect x="193.7" y="2126.92" width="10.5" height="6" fill="#000"/>
<text x="172.9" y="1710.6" font-size="36.3" text-anchor="end" textLength="48.19" lengthAdjust="spacingAndGlyphs">1.5</text>
<rect x="125.72" y="1704.75" width="7.08" height="8.35" fill="#fff"/>
<rect x="137.56" y="1704.75" width="6.62" height="8.35" fill="#fff"/>
<text x="172.9" y="1782.37" font-size="36.3" text-anchor="end" textLength="48.19" lengthAdjust="spacingAndGlyphs">1.0</text>
<rect x="125.72" y="1776.52" width="7.08" height="8.35" fill="#fff"/>
<rect x="137.56" y="1776.52" width="6.62" height="8.35" fill="#fff"/>
<text x="172.9" y="1854.14" font-size="36.3" text-anchor="end" textLength="48.19" lengthAdjust="spacingAndGlyphs">0.5</text>
<text x="172.9" y="1925.91" font-size="36.3" text-anchor="end" textLength="48.19" lengthAdjust="spacingAndGlyphs">0.0</text>
<text x="172.9" y="1997.68" font-size="36.3" text-anchor="end" textLength="59.74" lengthAdjust="spacingAndGlyphs">-0.5</text>
<text x="172.9" y="2069.45" font-size="36.3" text-anchor="end" textLength="59.74" lengthAdjust="spacingAndGlyphs">-1.0</text>
<rect x="125.72" y="2063.6" width="7.08" height="8.35" fill="#fff"/>
<rect x="137.56" y="2063.6" width="6.62" height="8.35" fill="#fff"/>
<text x="172.9" y="2141.22" font-size="36.3" text-anchor="end" textLength="59.74" lengthAdjust="spacingAndGlyphs">-1.5</text>
<rect x="125.72" y="2135.37" width="7.08" height="8.35" fill="#fff"/>
<rect x="137.56" y="2135.37" width="6.62" height="8.35" fill="#fff"/>
<text x="192.5" y="2172.3" font-size="36.3" text-anchor="middle" textLength="19.28" lengthAdjust="spacingAndGlyphs">0</text>
<text x="286.44" y="2172.3" font-size="36.3" text-anchor="middle" textLength="19.28" lengthAdjust="spacingAndGlyphs">1</text>
<rect x="277.81" y="2166.45" width="7.08" height="8.35" fill="#fff"/>
<rect x="289.65" y="2166.45" width="6.62" height="8.35" fill="#fff"/>
<text x="380.38" y="2172.3" font-size="36.3" text-anchor="middle" textLength="19.28" lengthAdjust="spacingAndGlyphs">2</text>
<text x="474.31" y="2172.3" font-size="36.3" text-anchor="middle" textLength="19.28" lengthAdjust="spacingAndGlyphs">3</text>
<text x="568.25" y="2172.3" font-size="36.3" text-anchor="middle" textLength="19.28" lengthAdjust="spacingAndGlyphs">4</text>
<text x="662.19" y="2172.3" font-size="36.3" text-anchor="middle" textLength="19.28" lengthAdjust="spacingAndGlyphs">5</text>
<text x="756.12" y="2172.3" font-size="36.3" text-anchor="middle" textLength="19.28" lengthAdjust="spacingAndGlyphs">6</text>
<text x="850.06" y="2172.3" font-size="36.3" text-anchor="middle" textLength="19.28" lengthAdjust="spacingAndGlyphs">7</text>
<text x="944" y="2172.3" font-size="36.3" text-anchor="middle" textLength="19.28" lengthAdjust="spacingAndGlyphs">8</text>
<g clip-path="url(#gl)">
<polyline points="193.7,1914.6 287.64,1927.5 381.57,1931.5 475.51,1926.3 569.45,1911.5 663.39,1914 757.33,1919 851.26,1864.3 945.2,1893.5" fill="none" stroke="#4F81BD" stroke-width="6.8" stroke-dasharray="12.6 12.5" stroke-dashoffset="2.7" stroke-linecap="round" stroke-linejoin="round"/>
<polyline points="184.31,1913.54 193.7,1914.4 287.64,1923 381.57,1931 475.51,1925.3 569.45,1912.2 663.39,1889 757.33,1938.9 851.26,1917.9 945.2,1919 954.59,1919.11" fill="none" stroke="#C00000" stroke-width="6.8" stroke-linejoin="round"/>
</g>
<line x1="304.3" y1="1688.7" x2="316.3" y2="1688.7" stroke-width="6.4" stroke="#4F81BD" stroke-linecap="round"/>
<line x1="328.3" y1="1688.7" x2="335.5" y2="1688.7" stroke-width="6.4" stroke="#4F81BD" stroke-linecap="round"/>
<text x="339" y="1700.7" font-size="41.5" font-weight="normal" textLength="170" lengthAdjust="spacingAndGlyphs">TM group</text>
<line x1="544.9" y1="1688.7" x2="575.5" y2="1688.7" stroke-width="6.4" stroke="#C00000" stroke-linecap="round"/>
<text x="579" y="1700.7" font-size="41.5" font-weight="normal" textLength="221" lengthAdjust="spacingAndGlyphs">TM+V group</text>
<text x="30" y="1925.4" font-size="33" text-anchor="middle" textLength="479" lengthAdjust="spacingAndGlyphs" transform="rotate(-90 30 1925.4)">Amount of canine movement</text>
<text x="69.5" y="1925.4" font-size="33" text-anchor="middle" textLength="85" lengthAdjust="spacingAndGlyphs" transform="rotate(-90 69.5 1925.4)">(mm)</text>
<text x="411.5" y="2238.2" font-size="41" textLength="351.5" lengthAdjust="spacingAndGlyphs">Number of visits</text>
<text x="486.5" y="1633.7" font-size="49.5" textLength="129" lengthAdjust="spacingAndGlyphs" stroke="#000" stroke-width="0.8">y-axis</text>
<text x="10.5" y="1613.5" font-size="65" stroke="#000" stroke-width="1">g</text>
</g>
<g>
<g clip-path="url(#hc)">
<rect x="1270.76" y="2007.7" width="6.7" height="152.3" fill="#000"/>
<rect x="1268.01" y="2004.6" width="12.2" height="6.2" fill="#000"/>
<rect x="1268.01" y="2023.3" width="12.2" height="6.2" fill="#000"/>
<rect x="1268.01" y="2106.4" width="12.2" height="6.2" fill="#000"/>
<rect x="1268.01" y="2156.9" width="12.2" height="6.2" fill="#000"/>
<rect x="1365.08" y="1910.9" width="6.7" height="232.6" fill="#000"/>
<rect x="1362.33" y="1907.8" width="12.2" height="6.2" fill="#000"/>
<rect x="1362.33" y="1939" width="12.2" height="6.2" fill="#000"/>
<rect x="1362.33" y="2090.5" width="12.2" height="6.2" fill="#000"/>
<rect x="1362.33" y="2140.4" width="12.2" height="6.2" fill="#000"/>
<rect x="1459.39" y="1871" width="6.7" height="257" fill="#000"/>
<rect x="1456.64" y="1867.9" width="12.2" height="6.2" fill="#000"/>
<rect x="1456.64" y="1921.7" width="12.2" height="6.2" fill="#000"/>
<rect x="1456.64" y="2031.6" width="12.2" height="6.2" fill="#000"/>
<rect x="1456.64" y="2124.9" width="12.2" height="6.2" fill="#000"/>
<rect x="1553.7" y="1802.5" width="6.7" height="300.9" fill="#000"/>
<rect x="1550.95" y="1799.4" width="12.2" height="6.2" fill="#000"/>
<rect x="1550.95" y="1894.6" width="12.2" height="6.2" fill="#000"/>
<rect x="1550.95" y="2048.7" width="12.2" height="6.2" fill="#000"/>
<rect x="1550.95" y="2100.3" width="12.2" height="6.2" fill="#000"/>
<rect x="1648.01" y="1786.6" width="6.7" height="309.8" fill="#000"/>
<rect x="1645.26" y="1783.5" width="12.2" height="6.2" fill="#000"/>
<rect x="1645.26" y="1850.5" width="12.2" height="6.2" fill="#000"/>
<rect x="1645.26" y="1996.8" width="12.2" height="6.2" fill="#000"/>
<rect x="1645.26" y="2093.3" width="12.2" height="6.2" fill="#000"/>
<rect x="1742.33" y="1744.8" width="6.7" height="266.2" fill="#000"/>
<rect x="1739.58" y="1741.7" width="12.2" height="6.2" fill="#000"/>
<rect x="1739.58" y="1823.1" width="12.2" height="6.2" fill="#000"/>
<rect x="1739.58" y="1961.9" width="12.2" height="6.2" fill="#000"/>
<rect x="1739.58" y="2007.9" width="12.2" height="6.2" fill="#000"/>
<rect x="1836.64" y="1735.5" width="6.7" height="297.8" fill="#000"/>
<rect x="1833.89" y="1732.4" width="12.2" height="6.2" fill="#000"/>
<rect x="1833.89" y="1772.3" width="12.2" height="6.2" fill="#000"/>
<rect x="1833.89" y="1911.1" width="12.2" height="6.2" fill="#000"/>
<rect x="1833.89" y="2030.2" width="12.2" height="6.2" fill="#000"/>
<rect x="1930.95" y="1735.5" width="6.7" height="320.4" fill="#000"/>
<rect x="1928.2" y="1732.4" width="12.2" height="6.2" fill="#000"/>
<rect x="1928.2" y="1754.2" width="12.2" height="6.2" fill="#000"/>
<rect x="1928.2" y="1900.8" width="12.2" height="6.2" fill="#000"/>
<rect x="1928.2" y="2052.8" width="12.2" height="6.2" fill="#000"/>
</g>
<rect x="1176.3" y="1700" width="7" height="446" fill="#000"/>
<rect x="1176.3" y="2122.3" width="761" height="7" fill="#000"/>
<rect x="1179.8" y="1700" width="10.5" height="6" fill="#000"/>
<rect x="1179.8" y="1752.85" width="10.5" height="6" fill="#000"/>
<rect x="1179.8" y="1805.7" width="10.5" height="6" fill="#000"/>
<rect x="1179.8" y="1858.55" width="10.5" height="6" fill="#000"/>
<rect x="1179.8" y="1911.4" width="10.5" height="6" fill="#000"/>
<rect x="1179.8" y="1964.25" width="10.5" height="6" fill="#000"/>
<rect x="1179.8" y="2017.1" width="10.5" height="6" fill="#000"/>
<rect x="1179.8" y="2069.95" width="10.5" height="6" fill="#000"/>
<rect x="1176.8" y="2125.8" width="6" height="10.5" fill="#000"/>
<rect x="1271.11" y="2125.8" width="6" height="10.5" fill="#000"/>
<rect x="1365.42" y="2125.8" width="6" height="10.5" fill="#000"/>
<rect x="1459.74" y="2125.8" width="6" height="10.5" fill="#000"/>
<rect x="1554.05" y="2125.8" width="6" height="10.5" fill="#000"/>
<rect x="1648.36" y="2125.8" width="6" height="10.5" fill="#000"/>
<rect x="1742.67" y="2125.8" width="6" height="10.5" fill="#000"/>
<rect x="1836.99" y="2125.8" width="6" height="10.5" fill="#000"/>
<rect x="1931.3" y="2125.8" width="6" height="10.5" fill="#000"/>
<text x="1158.9" y="1714.3" font-size="36.3" text-anchor="end" textLength="48.19" lengthAdjust="spacingAndGlyphs">4.0</text>
<text x="1158.9" y="1767.15" font-size="36.3" text-anchor="end" textLength="48.19" lengthAdjust="spacingAndGlyphs">3.5</text>
<text x="1158.9" y="1820" font-size="36.3" text-anchor="end" textLength="48.19" lengthAdjust="spacingAndGlyphs">3.0</text>
<text x="1158.9" y="1872.85" font-size="36.3" text-anchor="end" textLength="48.19" lengthAdjust="spacingAndGlyphs">2.5</text>
<text x="1158.9" y="1925.7" font-size="36.3" text-anchor="end" textLength="48.19" lengthAdjust="spacingAndGlyphs">2.0</text>
<text x="1158.9" y="1978.55" font-size="36.3" text-anchor="end" textLength="48.19" lengthAdjust="spacingAndGlyphs">1.5</text>
<rect x="1111.72" y="1972.7" width="7.08" height="8.35" fill="#fff"/>
<rect x="1123.56" y="1972.7" width="6.62" height="8.35" fill="#fff"/>
<text x="1158.9" y="2031.4" font-size="36.3" text-anchor="end" textLength="48.19" lengthAdjust="spacingAndGlyphs">1.0</text>
<rect x="1111.72" y="2025.55" width="7.08" height="8.35" fill="#fff"/>
<rect x="1123.56" y="2025.55" width="6.62" height="8.35" fill="#fff"/>
<text x="1158.9" y="2084.25" font-size="36.3" text-anchor="end" textLength="48.19" lengthAdjust="spacingAndGlyphs">0.5</text>
<text x="1158.9" y="2137.1" font-size="36.3" text-anchor="end" textLength="48.19" lengthAdjust="spacingAndGlyphs">0.0</text>
<text x="1158.9" y="2189.95" font-size="36.3" text-anchor="end" textLength="59.74" lengthAdjust="spacingAndGlyphs">-0.5</text>
<g clip-path="url(#hz)">
<text x="1179.5" y="2178.8" font-size="36.3" text-anchor="middle" textLength="19.28" lengthAdjust="spacingAndGlyphs">0</text>
</g>
<text x="1273.74" y="2178.8" font-size="36.3" text-anchor="middle" textLength="19.28" lengthAdjust="spacingAndGlyphs">1</text>
<rect x="1265.11" y="2172.95" width="7.08" height="8.35" fill="#fff"/>
<rect x="1276.95" y="2172.95" width="6.62" height="8.35" fill="#fff"/>
<text x="1367.97" y="2178.8" font-size="36.3" text-anchor="middle" textLength="19.28" lengthAdjust="spacingAndGlyphs">2</text>
<text x="1462.21" y="2178.8" font-size="36.3" text-anchor="middle" textLength="19.28" lengthAdjust="spacingAndGlyphs">3</text>
<text x="1556.45" y="2178.8" font-size="36.3" text-anchor="middle" textLength="19.28" lengthAdjust="spacingAndGlyphs">4</text>
<text x="1650.69" y="2178.8" font-size="36.3" text-anchor="middle" textLength="19.28" lengthAdjust="spacingAndGlyphs">5</text>
<text x="1744.93" y="2178.8" font-size="36.3" text-anchor="middle" textLength="19.28" lengthAdjust="spacingAndGlyphs">6</text>
<text x="1839.16" y="2178.8" font-size="36.3" text-anchor="middle" textLength="19.28" lengthAdjust="spacingAndGlyphs">7</text>
<text x="1933.4" y="2178.8" font-size="36.3" text-anchor="middle" textLength="19.28" lengthAdjust="spacingAndGlyphs">8</text>
<g clip-path="url(#hc)">
<polyline points="1179.8,2125.8 1274.11,2091.4 1368.42,2043.9 1462.74,2024.4 1557.05,2000.7 1651.36,1974.2 1745.67,1918.9 1839.99,1905 1934.3,1906.7" fill="none" stroke="#4F81BD" stroke-width="6.8" stroke-dasharray="12.6 12.5" stroke-dashoffset="2.7" stroke-linecap="round" stroke-linejoin="round"/>
<polyline points="1170.37,2132.73 1179.8,2125.8 1274.11,2056.5 1368.42,2000.7 1462.74,1953.3 1557.05,1925.4 1651.36,1891.9 1745.67,1854 1839.99,1824.8 1934.3,1820 1943.73,1819.52" fill="none" stroke="#C00000" stroke-width="6.8" stroke-linejoin="round"/>
</g>
<text x="1271.6" y="1993.4" font-size="40.2" text-anchor="middle" font-weight="normal" font-family='"DejaVu Sans Mono", "Liberation Mono", monospace' stroke="#000" stroke-width="0.8">**</text>
<text x="1376" y="1902.4" font-size="40.2" text-anchor="middle" font-weight="normal" font-family='"DejaVu Sans Mono", "Liberation Mono", monospace' stroke="#000" stroke-width="0.8">*</text>
<text x="1461" y="1859.4" font-size="40.2" text-anchor="middle" font-weight="normal" font-family='"DejaVu Sans Mono", "Liberation Mono", monospace' stroke="#000" stroke-width="0.8">**</text>
<text x="1559.5" y="1793.9" font-size="40.2" text-anchor="middle" font-weight="normal" font-family='"DejaVu Sans Mono", "Liberation Mono", monospace' stroke="#000" stroke-width="0.8">**</text>
<text x="1649.3" y="1770.9" font-size="40.2" text-anchor="middle" font-weight="normal" font-family='"DejaVu Sans Mono", "Liberation Mono", monospace' stroke="#000" stroke-width="0.8">*</text>
<text x="1930" y="1731.4" font-size="40.2" text-anchor="middle" font-weight="normal" font-family='"DejaVu Sans Mono", "Liberation Mono", monospace' stroke="#000" stroke-width="0.8">*</text>
<line x1="1282" y1="1695" x2="1294" y2="1695" stroke-width="6.4" stroke="#4F81BD" stroke-linecap="round"/>
<line x1="1306" y1="1695" x2="1313" y2="1695" stroke-width="6.4" stroke="#4F81BD" stroke-linecap="round"/>
<text x="1316.5" y="1707.6" font-size="41.5" font-weight="normal" textLength="170" lengthAdjust="spacingAndGlyphs">TM group</text>
<line x1="1521.2" y1="1695" x2="1552" y2="1695" stroke-width="6.4" stroke="#C00000" stroke-linecap="round"/>
<text x="1555" y="1707.6" font-size="41.5" font-weight="normal" textLength="221" lengthAdjust="spacingAndGlyphs">TM+V group</text>
<text x="1032" y="1928.5" font-size="33" text-anchor="middle" textLength="479" lengthAdjust="spacingAndGlyphs" transform="rotate(-90 1032 1928.5)">Amount of canine movement</text>
<text x="1071.5" y="1928.5" font-size="33" text-anchor="middle" textLength="85" lengthAdjust="spacingAndGlyphs" transform="rotate(-90 1071.5 1928.5)">(mm)</text>
<text x="1394.5" y="2235.3" font-size="41" textLength="351.5" lengthAdjust="spacingAndGlyphs">Number of visits</text>
<text x="1493" y="1631" font-size="49.5" textLength="124.5" lengthAdjust="spacingAndGlyphs" stroke="#000" stroke-width="0.8">z-axis</text>
<text x="1006" y="1628" font-size="67.5" textLength="38" lengthAdjust="spacingAndGlyphs" stroke="#000" stroke-width="1">h</text>
</g>
<rect x="1189" y="2176" width="1" height="7" fill="#222"/>
</svg>
</body>
</html>
